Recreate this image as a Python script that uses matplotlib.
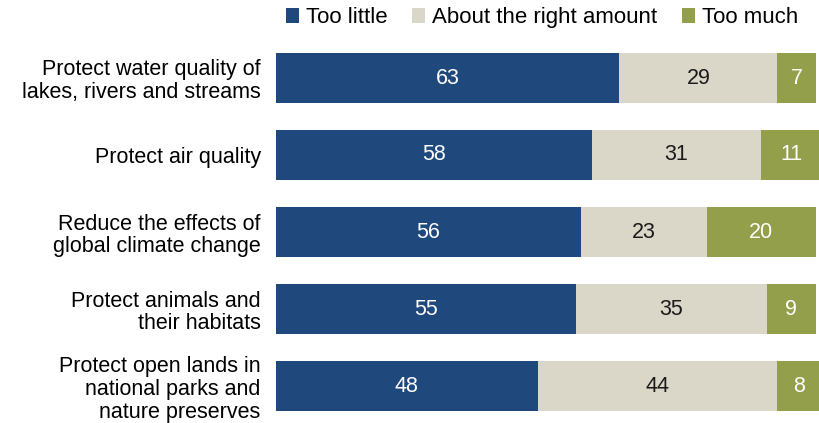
import matplotlib.pyplot as plt
from matplotlib.patches import Patch

plt.rcParams['font.family'] = ['Liberation Sans', 'DejaVu Sans']

categories = ['Protect water quality of\nlakes, rivers and streams',
              'Protect air quality',
              'Reduce the effects of\nglobal climate change',
              'Protect animals and\ntheir habitats',
              'Protect open lands in\nnational parks and\nnature preserves']
too_little = [63, 58, 56, 55, 48]
about_right = [29, 31, 23, 35, 44]
too_much = [7, 11, 20, 9, 8]

series = ['Too little', 'About the right amount', 'Too much']
colors = ['#1F497D', '#DAD7C8', '#939F4A']
text_colors = ['white', '#1a1a1a', 'white']

fig = plt.figure(figsize=(8.2, 4.23), dpi=100)
ax = fig.add_axes([276 / 820, 1 - 424.5 / 423, 545 / 820, 385 / 423])

y = list(range(len(categories)))
left = [0] * len(categories)
for vals, col, tcol in zip([too_little, about_right, too_much], colors, text_colors):
    bars = ax.barh(y, vals, left=left, height=0.65, color=col, edgecolor='none')
    for b, v in zip(bars, vals):
        ax.text(b.get_x() + b.get_width() / 2, b.get_y() + b.get_height() / 2, str(v),
                ha='center', va='center', color=tcol, fontsize=15.5)
    left = [l + v for l, v in zip(left, vals)]

ax.set_xlim(0, 100)
ax.set_ylim(4.5, -0.5)
ax.set_yticks(y)
ax.set_yticklabels(categories, fontsize=15.5, linespacing=1.12)
ax.tick_params(axis='y', length=0, pad=11)
ax.set_xticks([])
for s in ax.spines.values():
    s.set_visible(False)

handles = [Patch(facecolor=c, edgecolor='none') for c in colors]
fig.legend(handles, series, loc='upper left', bbox_to_anchor=(266 / 820, 1.03),
           ncol=3, frameon=False, fontsize=16, handlelength=0.6, handleheight=0.6,
           handletextpad=0.3, columnspacing=1.1)

fig.savefig('out.png', dpi=100)
